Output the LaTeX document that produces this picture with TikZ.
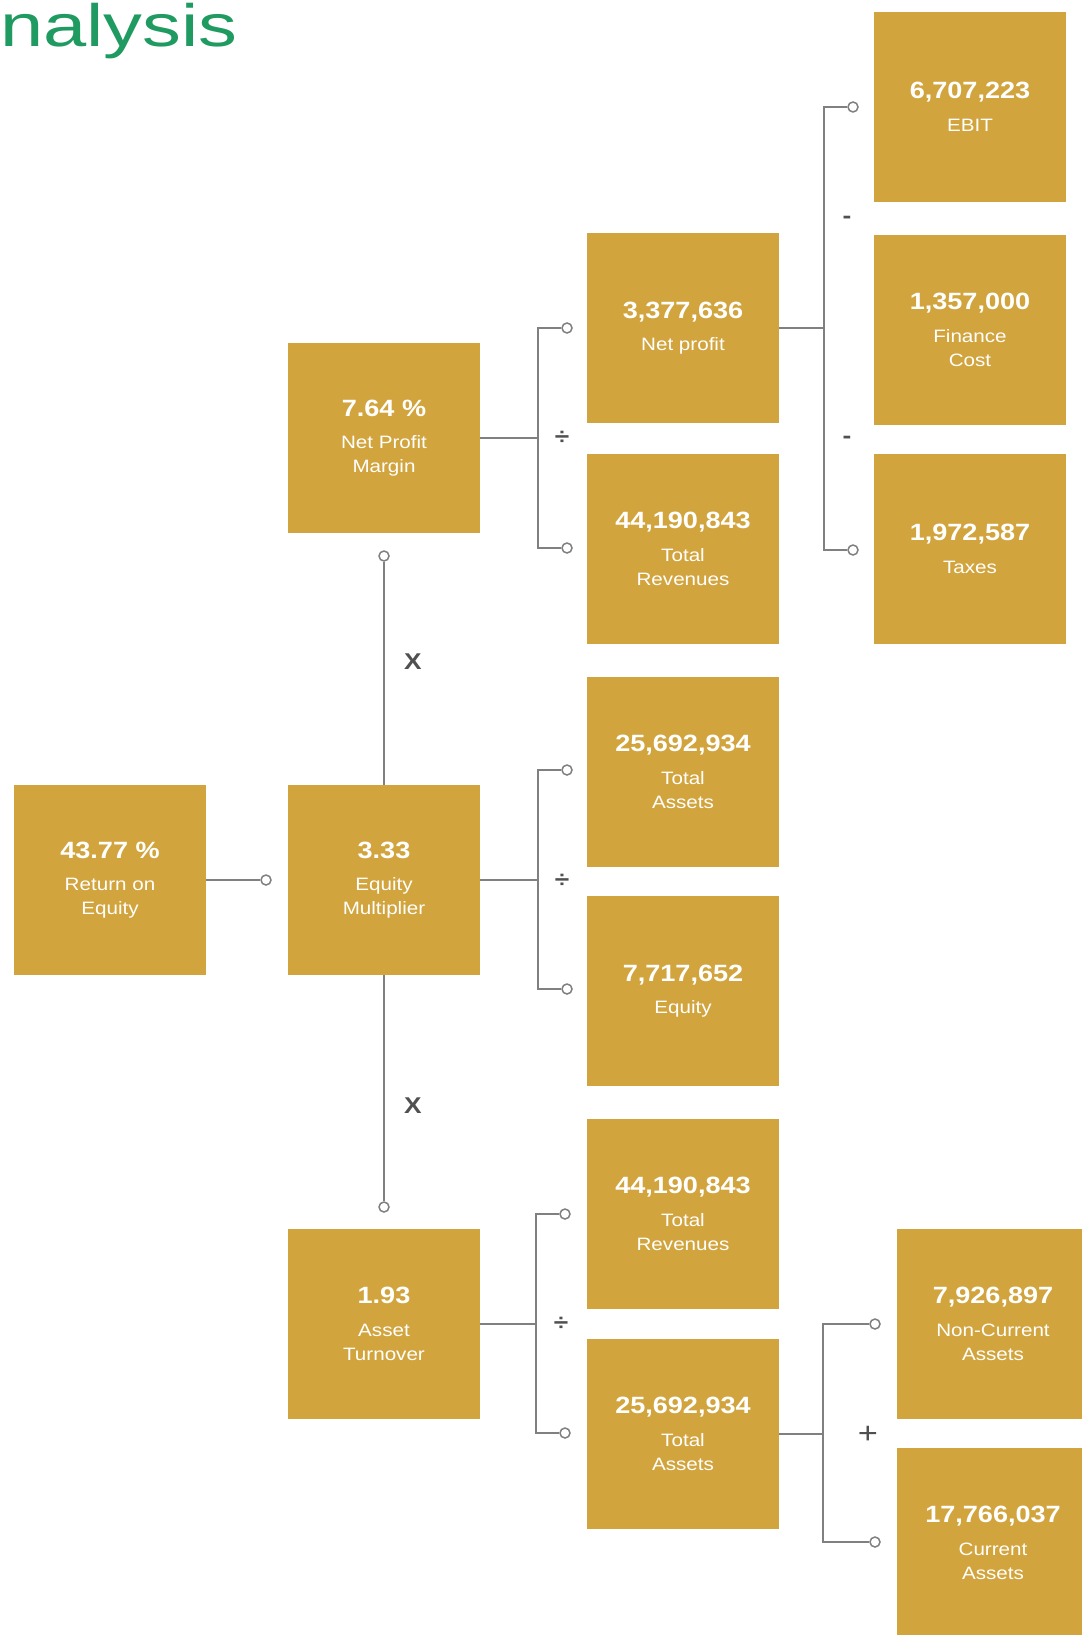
\documentclass[tikz,border=0pt]{standalone}
\usepackage{fontspec}
\setmainfont[FakeStretch=1.15]{Liberation Sans}
\newfontfamily\titlefont[FakeStretch=1.3]{Liberation Sans}
\usetikzlibrary{positioning}
\definecolor{roe-gold}{HTML}{D2A43D}
\definecolor{roe-green}{HTML}{1F9A60}
\definecolor{roe-line}{HTML}{808080}
\definecolor{roe-sign}{HTML}{505050}
\newcommand\figval[1]{{\fontsize{13.4}{16}\selectfont\bfseries #1}\\[5pt]}

\begin{document}
\begin{tikzpicture}[
		x=0.02cm, y=-0.02cm,
		kpi/.style={
			fill=roe-gold, text=white,
			minimum width=3.84cm, minimum height=3.8cm,
			inner sep=0pt, align=center,
			font=\fontsize{10.2}{13.6}\selectfont
		},
		link/.style={draw=roe-line, line width=0.85pt},
		dot/.style={
			circle, draw=roe-line, fill=white,
			line width=0.85pt, minimum size=0.2cm, inner sep=0pt
		},
		sign/.style={
			text=roe-sign, inner sep=0pt,
			font=\fontsize{13}{13}\selectfont\bfseries
		}
		]
		
		\useasboundingbox (0,0) rectangle (1081,1635);
		
		\def\xa{384}
		\def\xb{683}
		\def\xc{970}
		
		% title
		\node[anchor=base west, inner sep=0pt, text=roe-green,
		font=\titlefont\fontsize{34}{34}\selectfont] (title) at (0,47) {nalysis};
		
		% ROE and its three factors
		\node[kpi] (roe) at (110,880) {\figval{43.77 \%}Return on\\Equity};
		\node[kpi] (npm) at (\xa,438) {\figval{7.64 \%}Net Profit\\Margin};
		\node[kpi] (em) at (\xa,880) {\figval{3.33}Equity\\Multiplier};
		\node[kpi] (at) at (\xa,1324) {\figval{1.93}Asset\\Turnover};
		
		% second column
		\node[kpi] (np) at (\xb,328) {\figval{3,377,636}Net profit};
		\node[kpi] (tr1) at (\xb,549) {\figval{44,190,843}Total\\Revenues};
		\node[kpi] (ta1) at (\xb,772) {\figval{25,692,934}Total\\Assets};
		\node[kpi] (eq) at (\xb,991) {\figval{7,717,652}Equity};
		\node[kpi] (tr2) at (\xb,1214) {\figval{44,190,843}Total\\Revenues};
		\node[kpi] (ta2) at (\xb,1434) {\figval{25,692,934}Total\\Assets};
		
		% third column
		\node[kpi] (ebit) at (\xc,107) {\figval{6,707,223}EBIT};
		\node[kpi] (fc) at (\xc,330) {\figval{1,357,000}Finance\\Cost};
		\node[kpi] (tx) at (\xc,549) {\figval{1,972,587}Taxes};
		\node[kpi] (nca) at (993,1324) {\figval{7,926,897}Non-Current\\Assets};
		\node[kpi] (ca) at (993,1543) {\figval{17,766,037}Current\\Assets};
		
		% end dots
		\node[dot] (d-em) at (266,880) {};
		\node[dot] (d-npm) at (\xa,556) {};
		\node[dot] (d-at) at (\xa,1207) {};
		\node[dot] (d-np) at (567,328) {};
		\node[dot] (d-tr1) at (567,548) {};
		\node[dot] (d-ta1) at (567,770) {};
		\node[dot] (d-eq) at (567,989) {};
		\node[dot] (d-tr2) at (565,1214) {};
		\node[dot] (d-ta2) at (565,1433) {};
		\node[dot] (d-ebit) at (853,107) {};
		\node[dot] (d-tx) at (853,550) {};
		\node[dot] (d-nca) at (875,1324) {};
		\node[dot] (d-ca) at (875,1542) {};
		
		% bracket spines
		\coordinate (s-npm) at (538,438);
		\coordinate (s-em) at (538,880);
		\coordinate (s-at) at (536,1324);
		\coordinate (s-np) at (824,328);
		\coordinate (s-ta2) at (823,1434);
		
		% connectors
		\draw[link] (roe) -- (d-em);
		\draw[link] (em) -- (d-npm);
		\draw[link] (em) -- (d-at);
		
		\draw[link] (npm) -- (s-npm);
		\draw[link] (d-np) -| (s-npm);
		\draw[link] (d-tr1) -| (s-npm);
		
		\draw[link] (em) -- (s-em);
		\draw[link] (d-ta1) -| (s-em);
		\draw[link] (d-eq) -| (s-em);
		
		\draw[link] (at) -- (s-at);
		\draw[link] (d-tr2) -| (s-at);
		\draw[link] (d-ta2) -| (s-at);
		
		\draw[link] (np) -- (s-np);
		\draw[link] (d-ebit) -| (s-np);
		\draw[link] (d-tx) -| (s-np);
		
		\draw[link] (ta2) -- (s-ta2);
		\draw[link] (d-nca) -| (s-ta2);
		\draw[link] (d-ca) -| (s-ta2);
		
		% operators
		\node[sign] (op-npm) at (562,438) {÷};
		\node[sign] (op-em) at (562,881) {÷};
		\node[sign] (op-at) at (561,1324) {÷};
		\node[sign] (x-up) at (413,662) {X};
		\node[sign] (x-down) at (413,1106) {X};
		\node[sign] (m-fc) at (847,220) {-};
		\node[sign] (m-tx) at (847,440) {-};
		\node[sign, font=\fontsize{17}{17}\selectfont] (p-ca) at (868,1435) {+};
		
	\end{tikzpicture}
\end{document}
